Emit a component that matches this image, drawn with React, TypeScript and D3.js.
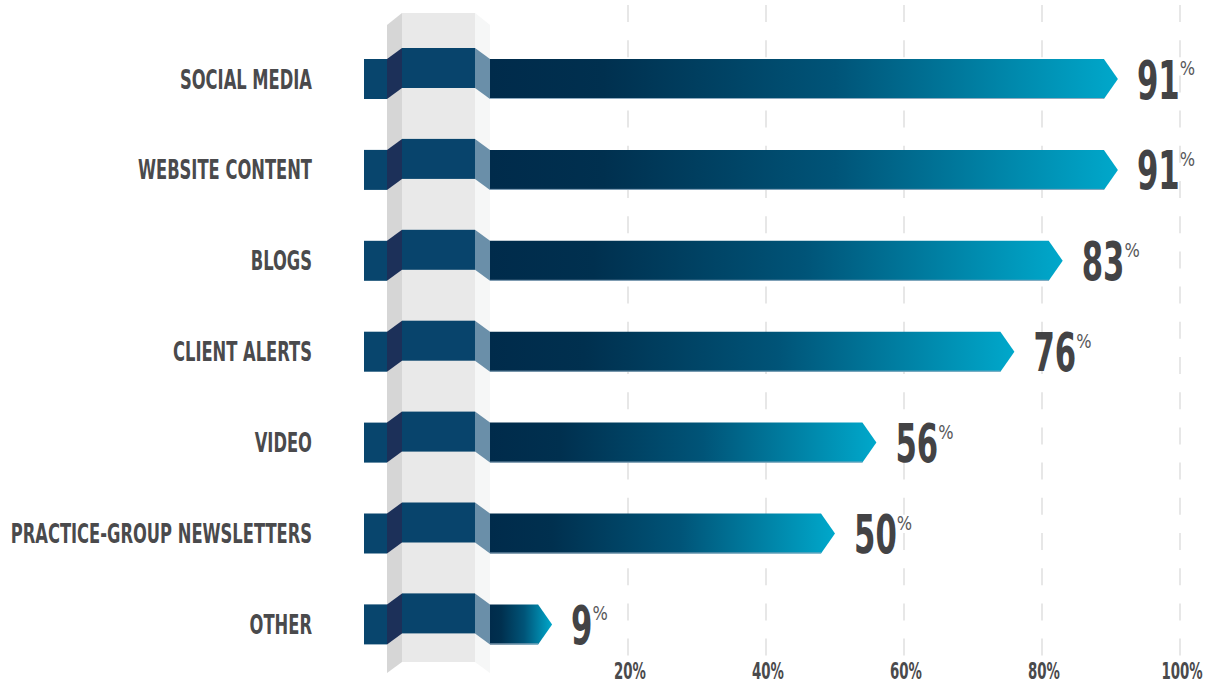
import React from 'react';
import * as d3 from 'd3';

const categories = [
  'SOCIAL MEDIA',
  'WEBSITE CONTENT',
  'BLOGS',
  'CLIENT ALERTS',
  'VIDEO',
  'PRACTICE-GROUP NEWSLETTERS',
  'OTHER',
];
const values = [91, 91, 83, 76, 56, 50, 9];
const ticks = [20, 40, 60, 80, 100];

const W = 1214;
const H = 686;
const FONT = "'DejaVu Sans', sans-serif";
const SX = 0.58;
const LABEL_SX = 0.605;

const App: React.FC = () => {
  const x = d3.scaleLinear().domain([0, 100]).range([490, 1180]);
  const y = d3.scalePoint<string>().domain(categories).range([79, 624.4]);
  const barH = 40;
  const lift = 11;
  const tipW = 14;

  // pillar geometry
  const pL = 387, pM1 = 402, pM2 = 475, pR = 490;
  const pTop = 13, pBot = 662;

  const gridDash = '17 18.2';

  return (
    <svg width={W} height={H} style={{ position: 'absolute', left: 0, top: 0, background: '#fff' }}>
      <defs>
        <linearGradient id="barGrad" x1="0" x2="1" y1="0" y2="0">
          <stop offset="0" stopColor="#002b4b" />
          <stop offset="0.18" stopColor="#00304f" />
          <stop offset="0.55" stopColor="#005478" />
          <stop offset="1" stopColor="#00a8cb" />
        </linearGradient>
      </defs>

      {/* dashed gridlines */}
      {ticks.map((t) => (
        <line
          key={t}
          x1={x(t)}
          x2={x(t)}
          y1={5}
          y2={658}
          stroke="#e7e7e7"
          strokeWidth={2}
          strokeDasharray={gridDash}
        />
      ))}

      {/* pillar */}
      <polygon
        points={`${pL},${pTop + 12} ${pM1},${pTop} ${pM1},${pBot} ${pL},${pBot + 11}`}
        fill="#d6d6d6"
      />
      <rect x={pM1} y={pTop} width={pM2 - pM1} height={pBot - pTop} fill="#e9e9e9" />
      <polygon
        points={`${pM2},${pTop} ${pR},${pTop + 12} ${pR},${pBot + 11} ${pM2},${pBot}`}
        fill="#f6f7f7"
      />

      {categories.map((c, i) => {
        const cy = y(c) as number;
        const top = cy - barH / 2;
        const bot = cy + barH / 2;
        const tip = x(values[i]);
        const v = values[i];
        const digits = String(v);
        const valSize = 53;
        const digitW = 0.696 * valSize * SX;
        const valX = tip + 19;
        return (
          <g key={c}>
            {/* ribbon through the pillar */}
            <rect x={364} y={top} width={pL - 364} height={barH} fill="#08456d" />
            <polygon
              points={`${pL},${top} ${pM1},${top - lift} ${pM1},${bot - lift} ${pL},${bot}`}
              fill="#1c3059"
            />
            <rect x={pM1} y={top - lift} width={pM2 - pM1} height={barH} fill="#08446c" />
            <polygon
              points={`${pM2},${top - lift} ${pR},${top} ${pR},${bot} ${pM2},${bot - lift}`}
              fill="#6a8fa9"
            />
            {/* value arrow */}
            <path
              d={`M${x(0)},${top} L${tip - tipW},${top} L${tip},${cy} L${tip - tipW},${bot} L${x(0)},${bot} Z`}
              fill="url(#barGrad)"
            />
            <line
              x1={x(0)}
              x2={tip - tipW}
              y1={bot - 0.5}
              y2={bot - 0.5}
              stroke="#8fabc0"
              strokeWidth={1}
            />

            {/* category label */}
            <text
              transform={`translate(312,${cy + 9.5}) scale(${LABEL_SX},1)`}
              textAnchor="end"
              fontFamily={FONT}
              fontWeight="bold"
              fontSize={27}
              fill="#4a4a4c"
            >
              {c}
            </text>

            {/* value label */}
            <text
              transform={`translate(${valX},${cy + 19.5}) scale(${SX},1)`}
              fontFamily={FONT}
              fontWeight="bold"
              fontSize={valSize}
              fill="#434345"
            >
              {digits}
            </text>
            <text
              transform={`translate(${valX + digitW * digits.length},${cy - 4}) scale(0.85,1)`}
              fontFamily={FONT}
              fontSize={19}
              fill="#58585a"
            >
              %
            </text>
          </g>
        );
      })}

      {/* axis labels */}
      {ticks.map((t) => (
        <text
          key={t}
          transform={`translate(${x(t) + 2},${679}) scale(${SX},1)`}
          textAnchor="middle"
          fontFamily={FONT}
          fontWeight="bold"
          fontSize={23}
          fill="#4a4a4c"
        >
          {`${t}%`}
        </text>
      ))}
    </svg>
  );
};

export default App;
